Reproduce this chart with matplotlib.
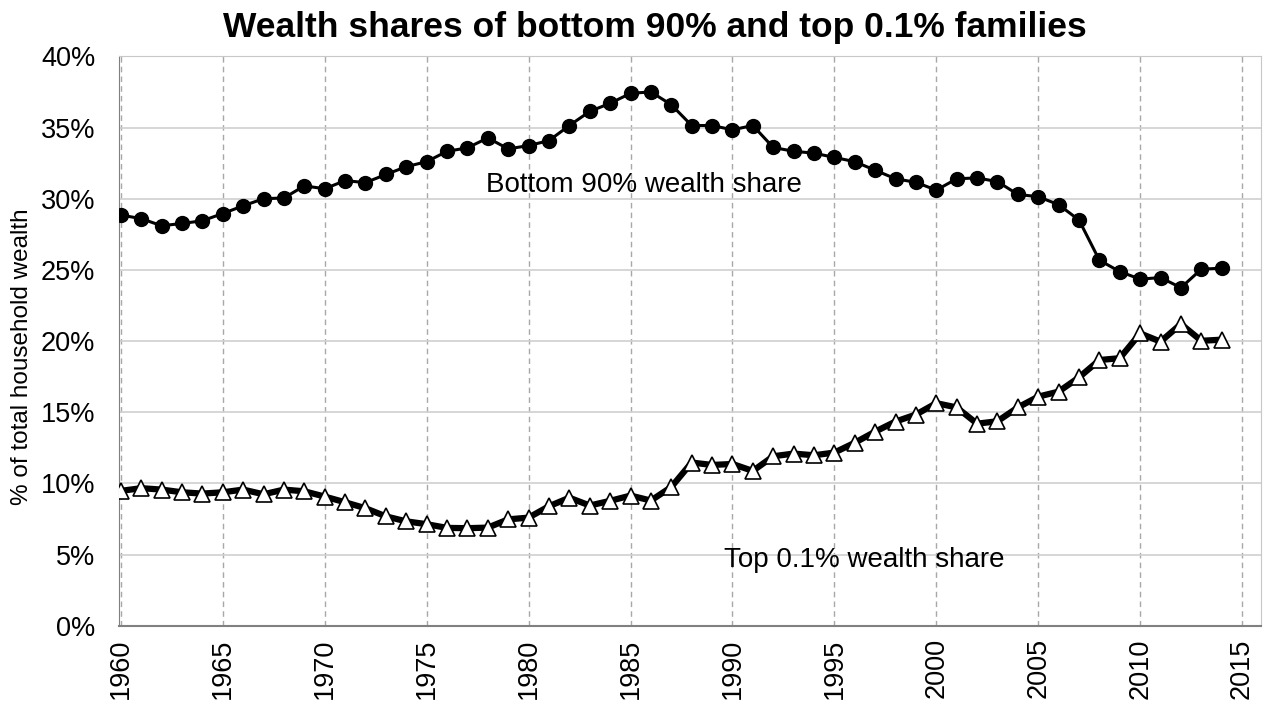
import matplotlib.pyplot as plt

plt.rcParams['font.family'] = ['Liberation Sans', 'DejaVu Sans']

years = list(range(1960, 2015))

bottom90 = [28.85, 28.6, 28.1, 28.26, 28.45, 28.96, 29.5, 30.0, 30.05, 30.9,
            30.7, 31.27, 31.13, 31.7, 32.25, 32.6, 33.33, 33.57, 34.27, 33.5,
            33.73, 34.08, 35.14, 36.13, 36.7, 37.4, 37.5, 36.6, 35.14, 35.14,
            34.84, 35.14, 33.6, 33.33, 33.2, 32.9, 32.6, 32.0, 31.4, 31.15,
            30.6, 31.4, 31.46, 31.2, 30.3, 30.14, 29.58, 28.5, 25.68, 24.88,
            24.35, 24.46, 23.75, 25.05, 25.12]

top01 = [9.48, 9.67, 9.57, 9.38, 9.29, 9.38, 9.57, 9.24, 9.57, 9.45,
         9.08, 8.68, 8.26, 7.69, 7.34, 7.14, 6.88, 6.86, 6.9, 7.48,
         7.6, 8.4, 9.0, 8.45, 8.78, 9.15, 8.8, 9.75, 11.47, 11.3,
         11.37, 10.88, 11.91, 12.1, 11.98, 12.17, 12.86, 13.64, 14.35, 14.84,
         15.64, 15.34, 14.2, 14.37, 15.34, 16.1, 16.45, 17.45, 18.67, 18.8,
         20.54, 19.96, 21.2, 20.02, 20.1]

x_ticks = list(range(1960, 2020, 5))
y_ticks = list(range(0, 45, 5))

fig = plt.figure(figsize=(12.64, 7.04), dpi=100)
ax = fig.add_axes([0.094, 0.111, 0.904, 0.809])

ax.plot(years, bottom90, color='black', lw=2.2, marker='o', ms=10,
        mfc='black', mec='black', zorder=3)
ax.plot(years, top01, color='black', lw=4.5, marker='^', ms=11.5,
        mfc='white', mec='black', mew=1.2, zorder=3)

ax.set_xlim(1959.9, 2015.95)
ax.set_ylim(0, 40)
ax.set_xticks(x_ticks)
ax.set_yticks(y_ticks)
ax.set_xticklabels([str(x) for x in x_ticks], rotation=90, fontsize=19.5)
ax.set_yticklabels([f'{y}%' for y in y_ticks], fontsize=19.5)
ax.tick_params(axis='y', length=0, pad=17)
ax.tick_params(axis='x', length=0, pad=9)

ax.yaxis.grid(True, color='#d0d0d0', lw=1.2, ls='-')
ax.xaxis.grid(True, color='#a8a8a8', lw=1.0, ls=(0, (4, 3)))
ax.set_axisbelow(True)

for side in ['top', 'right']:
    ax.spines[side].set_color('#c8c8c8')
ax.spines['left'].set_color('#808080')
ax.spines['bottom'].set_color('#808080')
ax.spines['bottom'].set_linewidth(1.5)

fig.text(22 / 1264, 1 - 357 / 704, '% of total household wealth',
         fontsize=17.5, rotation=90, ha='center', va='center')
fig.text(655 / 1264, 1 - 37 / 704,
         'Wealth shares of bottom 90% and top 0.1% families',
         fontsize=25.5, fontweight='bold', ha='center', va='baseline')

ax.text(1977.9, 30.5, 'Bottom 90% wealth share', fontsize=20, va='baseline')
ax.text(1989.6, 4.15, 'Top 0.1% wealth share', fontsize=20, va='baseline')

fig.savefig('out.png', dpi=100)
